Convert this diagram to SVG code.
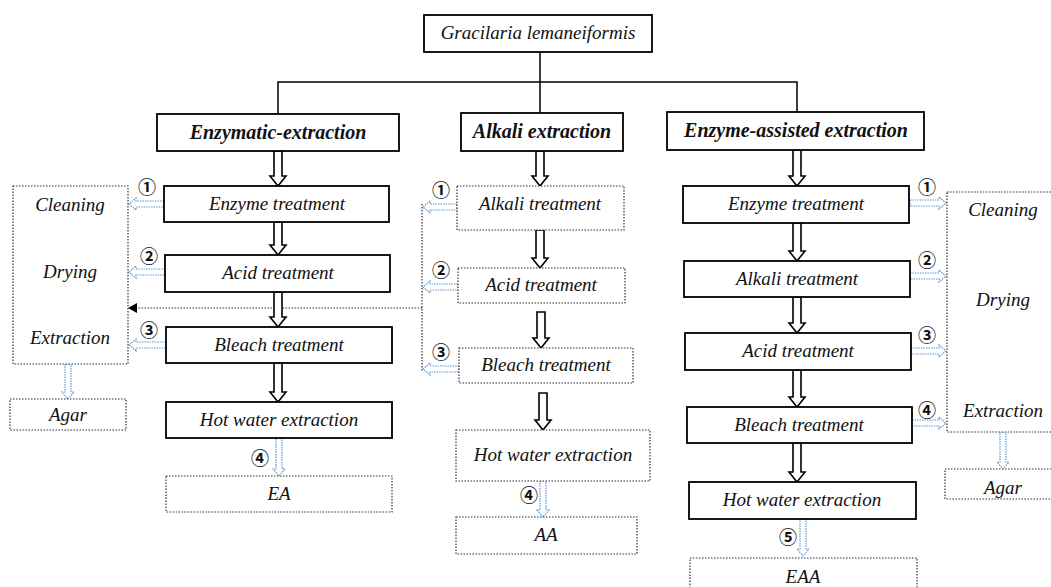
<svg xmlns="http://www.w3.org/2000/svg" width="1051" height="587" viewBox="0 0 1051 587">
<style>
.box{fill:#fff;stroke:#000;stroke-width:1.8}
.dbox{fill:#fff;stroke:#333;stroke-width:1.2;stroke-dasharray:1.5 1.5}
.t{font-family:"Liberation Serif",serif;font-style:italic;font-size:19px;text-anchor:middle;fill:#111}
.h{font-family:"Liberation Serif",serif;font-style:italic;font-weight:bold;font-size:20px;text-anchor:middle;fill:#111}
.n{font-family:"Noto Sans CJK SC","DejaVu Sans",sans-serif;font-size:18px;font-weight:bold;text-anchor:middle;fill:#111}
.ha{fill:#fff;stroke:#000;stroke-width:1.6}
.ba{fill:#fff;stroke:#5b9bd5;stroke-width:1.2;stroke-dasharray:1.5 1}
.ln{fill:none;stroke:#000;stroke-width:1.5}
.dl{fill:none;stroke:#333;stroke-width:1.2;stroke-dasharray:1.5 1.5}
</style>
<g id="connectors">
<path class="ln" d="M540 52 V113 M278 114 V82 H797 V112"/>
<path class="dl" d="M422 204 V372 M422 308 H136"/>
<polygon points="128,308 137,303 137,313" fill="#000"/>
<polygon class="ha" points="274,151 282,151 282,176 286,176 278,186 270,176 274,176"/>
<polygon class="ha" points="274,222 282,222 282,245 286,245 278,255 270,245 274,245"/>
<polygon class="ha" points="274,292 282,292 282,317 286,317 278,327 270,317 274,317"/>
<polygon class="ha" points="274,363 282,363 282,392 286,392 278,402 270,392 274,392"/>
<polygon class="ha" points="536,151 544,151 544,176 548,176 540,186 532,176 536,176"/>
<polygon class="ha" points="536,230 544,230 544,258 548,258 540,268 532,258 536,258"/>
<polygon class="ha" points="537,312 545,312 545,338 549,338 541,348 533,338 537,338"/>
<polygon class="ha" points="539,393 547,393 547,420 551,420 543,430 535,420 539,420"/>
<polygon class="ha" points="793,150 801,150 801,176 805,176 797,186 789,176 793,176"/>
<polygon class="ha" points="793,223 801,223 801,251 805,251 797,261 789,251 793,251"/>
<polygon class="ha" points="793,297 801,297 801,323 805,323 797,333 789,323 793,323"/>
<polygon class="ha" points="793,370 801,370 801,397 805,397 797,407 789,397 793,397"/>
<polygon class="ha" points="793,443 801,443 801,472 805,472 797,482 789,472 793,472"/>
<polygon class="ba" points="164,201 136,201 136,198 129,204 136,210 136,207 164,207"/>
<polygon class="ba" points="165,269 136,269 136,266 129,272 136,278 136,275 165,275"/>
<polygon class="ba" points="166,342 136,342 136,339 129,345 136,351 136,348 166,348"/>
<polygon class="ba" points="457,204 430,204 430,201 423,207 430,213 430,210 457,210"/>
<polygon class="ba" points="458,284 430,284 430,281 423,287 430,293 430,290 458,290"/>
<polygon class="ba" points="459,366 430,366 430,363 423,369 430,375 430,372 459,372"/>
<polygon class="ba" points="910,200 939,200 939,197 946,203 939,209 939,206 910,206"/>
<polygon class="ba" points="910,273 939,273 939,270 946,276 939,282 939,279 910,279"/>
<polygon class="ba" points="911,348 939,348 939,345 946,351 939,357 939,354 911,354"/>
<polygon class="ba" points="912,420 939,420 939,417 946,423 939,429 939,426 912,426"/>
<polygon class="ba" points="65,364 71,364 71,392 74,392 68,399 62,392 65,392"/>
<polygon class="ba" points="276,438 282,438 282,469 285,469 279,476 273,469 276,469"/>
<polygon class="ba" points="540,481 546,481 546,510 549,510 543,517 537,510 540,510"/>
<polygon class="ba" points="800,519 806,519 806,549 809,549 803,556 797,549 800,549"/>
<polygon class="ba" points="1000,432 1006,432 1006,462 1009,462 1003,469 997,462 1000,462"/>
</g>
<g id="labels">
<text class="n" x="147" y="194">①</text>
<text class="n" x="149" y="263">②</text>
<text class="n" x="149" y="337">③</text>
<text class="n" x="260" y="465">④</text>
<text class="n" x="441" y="197">①</text>
<text class="n" x="441" y="277">②</text>
<text class="n" x="441" y="359">③</text>
<text class="n" x="529" y="502">④</text>
<text class="n" x="927" y="194">①</text>
<text class="n" x="927" y="267">②</text>
<text class="n" x="927" y="342">③</text>
<text class="n" x="927" y="417">④</text>
<text class="n" x="788" y="544">⑤</text>
</g>
<g id="n-top"><rect class="box" x="424" y="15" width="228" height="37"/><text class="t" x="538" y="39" font-size="17">Gracilaria lemaneiformis</text></g>
<g id="n-enzymatic"><rect class="box" x="157" y="114" width="242" height="37"/><text class="h" x="278" y="139">Enzymatic-extraction</text></g>
<g id="n-alkali"><rect class="box" x="461" y="113" width="162" height="38"/><text class="h" x="542" y="138">Alkali extraction</text></g>
<g id="n-assisted"><rect class="box" x="667" y="112" width="257" height="38"/><text class="h" x="796" y="137">Enzyme-assisted extraction</text></g>
<g id="n-l1"><rect class="box" x="164" y="186" width="225" height="36"/><text class="t" x="277" y="210">Enzyme treatment</text></g>
<g id="n-l2"><rect class="box" x="165" y="255" width="225" height="37"/><text class="t" x="278" y="279">Acid treatment</text></g>
<g id="n-l3"><rect class="box" x="166" y="327" width="226" height="36"/><text class="t" x="279" y="351">Bleach treatment</text></g>
<g id="n-l4"><rect class="box" x="166" y="402" width="226" height="36"/><text class="t" x="279" y="426">Hot water extraction</text></g>
<g id="n-l5"><rect class="dbox" x="166" y="476" width="226" height="36"/><text class="t" x="279" y="500">EA</text></g>
<g id="n-lside"><rect class="dbox" x="13" y="186" width="115" height="178"/><text class="t" x="70" y="211">Cleaning</text><text class="t" x="70" y="278">Drying</text><text class="t" x="70" y="344">Extraction</text></g>
<g id="n-lagar"><rect class="dbox" x="10" y="399" width="116" height="31"/><text class="t" x="68" y="421">Agar</text></g>
<g id="n-m1"><rect class="dbox" x="457" y="186" width="167" height="44"/><text class="t" x="540" y="210">Alkali treatment</text></g>
<g id="n-m2"><rect class="dbox" x="458" y="268" width="167" height="35"/><text class="t" x="541" y="291">Acid treatment</text></g>
<g id="n-m3"><rect class="dbox" x="459" y="348" width="174" height="35"/><text class="t" x="546" y="371">Bleach treatment</text></g>
<g id="n-m4"><rect class="dbox" x="456" y="430" width="194" height="51"/><text class="t" x="553" y="461">Hot water extraction</text></g>
<g id="n-m5"><rect class="dbox" x="456" y="517" width="181" height="37"/><text class="t" x="546" y="541">AA</text></g>
<g id="n-r1"><rect class="box" x="683" y="186" width="226" height="37"/><text class="t" x="796" y="210">Enzyme treatment</text></g>
<g id="n-r2"><rect class="box" x="684" y="261" width="226" height="36"/><text class="t" x="797" y="285">Alkali treatment</text></g>
<g id="n-r3"><rect class="box" x="685" y="333" width="226" height="37"/><text class="t" x="798" y="357">Acid treatment</text></g>
<g id="n-r4"><rect class="box" x="687" y="407" width="225" height="36"/><text class="t" x="799" y="431">Bleach treatment</text></g>
<g id="n-r5"><rect class="box" x="689" y="482" width="227" height="37"/><text class="t" x="802" y="506">Hot water extraction</text></g>
<g id="n-r6"><rect class="dbox" x="690" y="558" width="227" height="40"/><text class="t" x="803" y="583">EAA</text></g>
<g id="n-rside"><rect class="dbox" x="947" y="192" width="115" height="240"/><text class="t" x="1003" y="216">Cleaning</text><text class="t" x="1003" y="306">Drying</text><text class="t" x="1003" y="417">Extraction</text></g>
<g id="n-ragar"><rect class="dbox" x="945" y="469" width="117" height="30"/><text class="t" x="1003" y="494">Agar</text></g>
</svg>
